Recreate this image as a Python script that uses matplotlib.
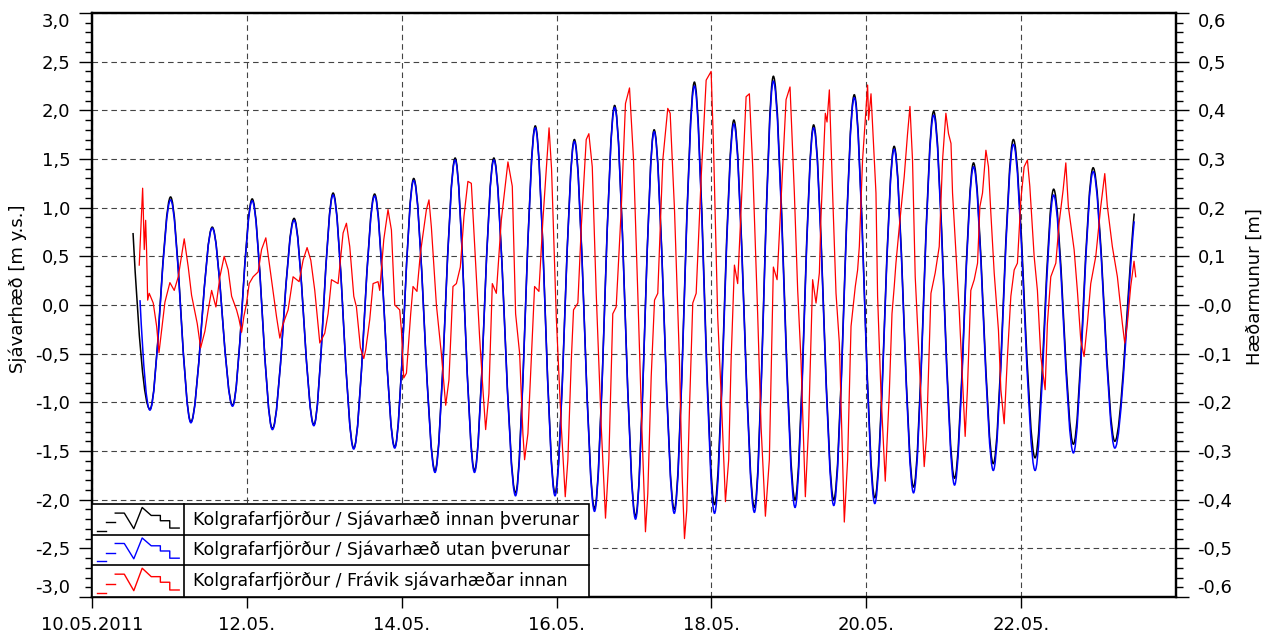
import matplotlib
matplotlib.use("Agg")
import matplotlib.pyplot as plt
from matplotlib.path import Path
from matplotlib.patches import PathPatch, Rectangle
from matplotlib.lines import Line2D
from matplotlib.ticker import FixedLocator, FixedFormatter, MultipleLocator

plt.rcParams["font.family"] = ["DejaVu Sans"]

# ── Data (time = days after 10.05.2011 00:00) ────────────────────────────────
# high / low water of the two gauges [m y.s.]
inner_t = [0.530, 0.748, 1.015, 1.277, 1.553, 1.815, 2.069, 2.330, 2.610, 2.865,
           3.114, 3.380, 3.650, 3.910, 4.155, 4.430, 4.690, 4.940, 5.190, 5.470,
           5.725, 5.980, 6.230, 6.490, 6.750, 7.020, 7.260, 7.520, 7.780, 8.040,
           8.290, 8.555, 8.800, 9.080, 9.320, 9.580, 9.845, 10.110, 10.360, 10.610,
           10.870, 11.140, 11.385, 11.640, 11.900, 12.180, 12.420, 12.675, 12.930,
           13.210, 13.460]
inner_h = [0.74, -1.07, 1.11, -1.20, 0.80, -1.03, 1.09, -1.27, 0.89, -1.23,
           1.15, -1.47, 1.14, -1.46, 1.30, -1.70, 1.51, -1.70, 1.51, -1.93,
           1.84, -1.93, 1.70, -2.09, 2.05, -2.17, 1.80, -2.10, 2.29, -2.05,
           1.90, -2.08, 2.35, -2.00, 1.85, -2.00, 2.16, -1.98, 1.63, -1.87,
           1.99, -1.78, 1.46, -1.63, 1.70, -1.57, 1.19, -1.43, 1.41, -1.40, 0.94]

outer_t = [0.620] + inner_t[1:]
outer_h = [0.05, -1.08, 1.08, -1.21, 0.79, -1.04, 1.07, -1.28, 0.87, -1.24,
           1.13, -1.48, 1.12, -1.47, 1.28, -1.72, 1.49, -1.72, 1.49, -1.96,
           1.82, -1.96, 1.68, -2.12, 2.03, -2.20, 1.78, -2.14, 2.25, -2.14,
           1.86, -2.13, 2.30, -2.08, 1.82, -2.06, 2.13, -2.04, 1.60, -1.93,
           1.95, -1.85, 1.42, -1.70, 1.65, -1.70, 1.13, -1.52, 1.37, -1.47, 0.86]

# difference inside vs. outside [m], right axis
diff_t = [0.610, 0.654, 0.662, 0.675, 0.693, 0.706, 0.719, 0.739, 0.791, 0.835,
          0.865, 0.899, 0.942, 1.006, 1.062, 1.114, 1.191, 1.243, 1.286, 1.359,
          1.403, 1.458, 1.501, 1.545, 1.600, 1.652, 1.707, 1.759, 1.803, 1.867,
          1.897, 1.932, 1.961, 1.996, 2.030, 2.081, 2.146, 2.190, 2.245, 2.319,
          2.383, 2.426, 2.461, 2.533, 2.597, 2.675, 2.726, 2.778, 2.826, 2.877,
          2.942, 3.006, 3.049, 3.093, 3.178, 3.243, 3.286, 3.329, 3.381, 3.415,
          3.467, 3.510, 3.535, 3.587, 3.630, 3.694, 3.716, 3.768, 3.823, 3.867,
          3.910, 3.974, 3.996, 4.026, 4.061, 4.116, 4.146, 4.197, 4.241, 4.319,
          4.352, 4.383, 4.448, 4.512, 4.568, 4.610, 4.662, 4.706, 4.757, 4.804,
          4.855, 4.899, 4.964, 5.006, 5.049, 5.084, 5.126, 5.170, 5.222, 5.286,
          5.372, 5.428, 5.471, 5.523, 5.565, 5.587, 5.630, 5.686, 5.716, 5.772,
          5.823, 5.903, 5.935, 5.996, 6.061, 6.112, 6.146, 6.190, 6.219, 6.275,
          6.319, 6.383, 6.417, 6.461, 6.512, 6.577, 6.632, 6.675, 6.726, 6.770,
          6.835, 6.890, 6.942, 6.994, 7.049, 7.101, 7.148, 7.178, 7.222, 7.265,
          7.307, 7.372, 7.436, 7.467, 7.523, 7.587, 7.622, 7.652, 7.681, 7.716,
          7.759, 7.803, 7.868, 7.932, 7.996, 8.026, 8.081, 8.125, 8.181, 8.223,
          8.254, 8.297, 8.339, 8.383, 8.448, 8.490, 8.533, 8.597, 8.641, 8.697,
          8.748, 8.800, 8.848, 8.920, 8.964, 9.015, 9.071, 9.114, 9.157, 9.213,
          9.255, 9.307, 9.351, 9.394, 9.415, 9.471, 9.493, 9.523, 9.565, 9.609,
          9.652, 9.716, 9.759, 9.803, 9.858, 9.888, 9.910, 9.952, 9.987, 10.017,
          10.030, 10.061, 10.125, 10.146, 10.190, 10.245, 10.297, 10.332, 10.361, 10.383,
          10.426, 10.490, 10.533, 10.564, 10.597, 10.632, 10.684, 10.748, 10.778, 10.835,
          10.890, 10.942, 10.985, 11.028, 11.062, 11.094, 11.114, 11.200, 11.277, 11.306,
          11.350, 11.394, 11.437, 11.467, 11.501, 11.545, 11.578, 11.609, 11.652, 11.707,
          11.738, 11.781, 11.823, 11.867, 11.910, 11.952, 11.996, 12.039, 12.081, 12.112,
          12.168, 12.210, 12.254, 12.310, 12.339, 12.383, 12.448, 12.490, 12.542, 12.577,
          12.610, 12.684, 12.726, 12.770, 12.813, 12.855, 12.899, 12.964, 13.028, 13.080,
          13.114, 13.178, 13.243, 13.307, 13.338, 13.372, 13.415, 13.458, 13.480]
diff_h = [0.082, 0.240, 0.196, 0.114, 0.174, 0.106, 0.010, 0.024, 0.004, -0.044,
          -0.098, -0.052, 0.006, 0.046, 0.030, 0.058, 0.136, 0.078, 0.020, -0.038,
          -0.088, -0.054, -0.010, 0.030, -0.004, 0.058, 0.100, 0.072, 0.018, -0.010,
          -0.028, -0.056, -0.024, 0.004, 0.044, 0.058, 0.068, 0.114, 0.138, 0.052,
          -0.024, -0.068, -0.042, -0.010, 0.058, 0.048, 0.092, 0.118, 0.092, 0.030,
          -0.078, -0.058, -0.018, 0.052, 0.044, 0.148, 0.168, 0.120, 0.018, -0.004,
          -0.088, -0.110, -0.092, -0.030, 0.044, 0.048, 0.030, 0.134, 0.196, 0.154,
          0.000, -0.010, -0.052, -0.150, -0.140, -0.018, 0.038, 0.028, 0.106, 0.196,
          0.216, 0.160, 0.000, -0.100, -0.206, -0.154, 0.038, 0.044, 0.078, 0.182,
          0.254, 0.250, 0.058, -0.066, -0.174, -0.256, -0.182, 0.044, 0.024, 0.174,
          0.294, 0.244, -0.018, -0.100, -0.264, -0.318, -0.264, -0.066, 0.038, 0.028,
          0.174, 0.364, 0.280, -0.024, -0.250, -0.394, -0.318, -0.114, -0.010, 0.004,
          0.160, 0.340, 0.352, 0.284, 0.024, -0.250, -0.438, -0.318, -0.018, -0.004,
          0.196, 0.414, 0.446, 0.298, 0.024, -0.250, -0.466, -0.388, -0.148, 0.010,
          0.024, 0.298, 0.404, 0.394, 0.196, -0.114, -0.352, -0.480, -0.422, -0.216,
          0.004, 0.024, 0.264, 0.462, 0.480, 0.332, -0.024, -0.182, -0.404, -0.318,
          -0.114, 0.082, 0.044, 0.196, 0.428, 0.434, 0.284, -0.018, -0.250, -0.434,
          -0.318, 0.078, 0.052, 0.284, 0.422, 0.448, 0.230, 0.030, -0.114, -0.394,
          -0.250, 0.052, 0.004, 0.066, 0.182, 0.394, 0.376, 0.442, 0.230, 0.024,
          -0.078, -0.446, -0.318, -0.044, 0.038, 0.072, 0.120, 0.298, 0.380, 0.452,
          0.380, 0.434, 0.230, 0.018, -0.182, -0.362, -0.182, -0.018, 0.038, 0.086,
          0.160, 0.264, 0.352, 0.408, 0.298, 0.058, -0.114, -0.332, -0.270, 0.024,
          0.066, 0.120, 0.298, 0.394, 0.352, 0.332, 0.230, -0.010, -0.270, -0.174,
          0.030, 0.052, 0.086, 0.202, 0.230, 0.318, 0.284, 0.188, 0.066, -0.052,
          -0.174, -0.244, -0.106, 0.018, 0.072, 0.086, 0.216, 0.284, 0.298, 0.244,
          0.100, 0.030, -0.106, -0.174, -0.038, 0.058, 0.086, 0.168, 0.236, 0.292,
          0.202, 0.114, 0.030, -0.072, -0.106, -0.038, 0.044, 0.100, 0.202, 0.270,
          0.202, 0.120, 0.058, -0.038, -0.078, -0.038, 0.038, 0.090, 0.058]

x_ticks = [0, 2, 4, 6, 8, 10, 12]
x_labels = ["10.05.2011", "12.05.", "14.05.", "16.05.", "18.05.", "20.05.", "22.05."]
left_ticks = [-3.0, -2.5, -2.0, -1.5, -1.0, -0.5, 0.0, 0.5, 1.0, 1.5, 2.0, 2.5, 3.0]
left_labels = ["-3,0", "-2,5", "-2,0", "-1,5", "-1,0", "-0,5", "0,0",
               "0,5", "1,0", "1,5", "2,0", "2,5", "3,0"]
right_ticks = [-0.6, -0.5, -0.4, -0.3, -0.2, -0.1, 0.0, 0.1, 0.2, 0.3, 0.4, 0.5, 0.6]
right_labels = ["-0,6", "-0,5", "-0,4", "-0,3", "-0,2", "-0,1", "-0,0",
                "0,1", "0,2", "0,3", "0,4", "0,5", "0,6"]
series_names = ["Kolgrafarfjörður / Sjávarhæð innan þverunar",
                "Kolgrafarfjörður / Sjávarhæð utan þverunar",
                "Kolgrafarfjörður / Frávik sjávarhæðar innan"]


def tide_path(t, h):
    """smooth curve through high/low water points (flat at each turning point)"""
    verts = [(t[0], h[0])]
    codes = [Path.MOVETO]
    n = len(t) - 1
    for i in range(n):
        dt = t[i + 1] - t[i]
        dh = h[i + 1] - h[i]
        c1 = (t[i] + dt / 3, h[i] + (0.6 * dh if i == 0 else 0))
        c2 = (t[i + 1] - dt / 3, h[i + 1] - (0.3 * dh if i == n - 1 else 0))
        verts += [c1, c2, (t[i + 1], h[i + 1])]
        codes += [Path.CURVE4] * 3
    return Path(verts, codes)


fig = plt.figure(figsize=(12.73, 6.37), dpi=100)
ax = fig.add_axes([92 / 1273, 40 / 637, 1084 / 1273, 584 / 637])
ax2 = ax.twinx()

ax.add_patch(PathPatch(tide_path(inner_t, inner_h), fc="none", ec="black", lw=1.1, zorder=3))
ax.add_patch(PathPatch(tide_path(outer_t, outer_h), fc="none", ec="#0000ff", lw=1.1, zorder=4))
ax2.plot(diff_t, diff_h, color="#ff0000", lw=0.9, zorder=3)

ax.set_xlim(0, 14)
ax.set_ylim(-3.0, 3.0)
ax2.set_ylim(-0.6, 0.6)

ax.xaxis.set_major_locator(FixedLocator(x_ticks))
ax.xaxis.set_major_formatter(FixedFormatter(x_labels))
ax.yaxis.set_major_locator(FixedLocator(left_ticks))
ax.yaxis.set_major_formatter(FixedFormatter(left_labels))
ax.yaxis.set_minor_locator(MultipleLocator(0.1))
ax2.yaxis.set_major_locator(FixedLocator(right_ticks))
ax2.yaxis.set_major_formatter(FixedFormatter(right_labels))
ax2.yaxis.set_minor_locator(MultipleLocator(0.02))

ax.grid(True, which="major", color="#444444", lw=0.8, linestyle=(0, (5, 3.5)))

for a in (ax, ax2):
    for sp in a.spines.values():
        sp.set_linewidth(1.6)
        sp.set_color("black")
ax.tick_params(axis="y", which="major", direction="out", length=9.5, width=1,
               labelsize=13, pad=6)
ax.tick_params(axis="y", which="minor", direction="out", length=5, width=1)
ax.tick_params(axis="x", which="major", direction="out", length=8, width=1,
               labelsize=13, pad=6)
ax2.tick_params(axis="y", which="major", direction="out", length=9.5, width=1,
                labelsize=13, pad=6)
ax2.tick_params(axis="y", which="minor", direction="out", length=5, width=1)

# end labels sit inside the axis range
for axis in (ax.yaxis, ax2.yaxis):
    labels = axis.get_ticklabels()
    labels[0].set_va("bottom")
    labels[-1].set_va("top")

ax.set_ylabel("Sjávarhæð [m y.s.]", fontsize=13)
ax.yaxis.set_label_coords(-0.060, 0.527)
ax2.set_ylabel("Hæðarmunur [m]", fontsize=13)
ax2.yaxis.set_label_coords(1.0646, 0.532)

# ── legend as a little table in the lower left corner ────────────────────────
tr = ax2.transAxes
leg_w, icon_w = 0.4585, 0.0851
rows = [(0.1067, 0.159), (0.0553, 0.1067), (0.0, 0.0553)]
colors = ["black", "#0000ff", "#ff0000"]
ax2.add_patch(Rectangle((0, 0), leg_w, rows[0][1], transform=tr, fc="white",
                        ec="black", lw=1.2, zorder=10))
ax2.add_line(Line2D([icon_w, icon_w], [0, rows[0][1]], transform=tr, color="black",
                    lw=1.2, zorder=11))
for yb, yt in rows[1:]:
    ax2.add_line(Line2D([0, leg_w], [yt, yt], transform=tr, color="black", lw=1.2, zorder=11))

icon_bits = [[(0.058, 0.109), (0.157, 0.109)],
             [(0.157, 0.402), (0.252, 0.402)],
             [(0.252, 0.707), (0.350, 0.707), (0.453, 0.196), (0.544, 0.891),
              (0.642, 0.630), (0.741, 0.630), (0.741, 0.457), (0.843, 0.457),
              (0.843, 0.217), (0.945, 0.217)]]
for (yb, yt), col, name in zip(rows, colors, series_names):
    h = yt - yb
    for bit in icon_bits:
        xs = [p[0] * icon_w for p in bit]
        ys = [yb + p[1] * h for p in bit]
        ax2.add_line(Line2D(xs, ys, transform=tr, color=col, lw=1.0, zorder=12))
    ax2.text(0.093, (yb + yt) / 2, name, transform=tr, fontsize=12.5,
             va="center", ha="left", zorder=12)

fig.savefig("out.png", dpi=100)
